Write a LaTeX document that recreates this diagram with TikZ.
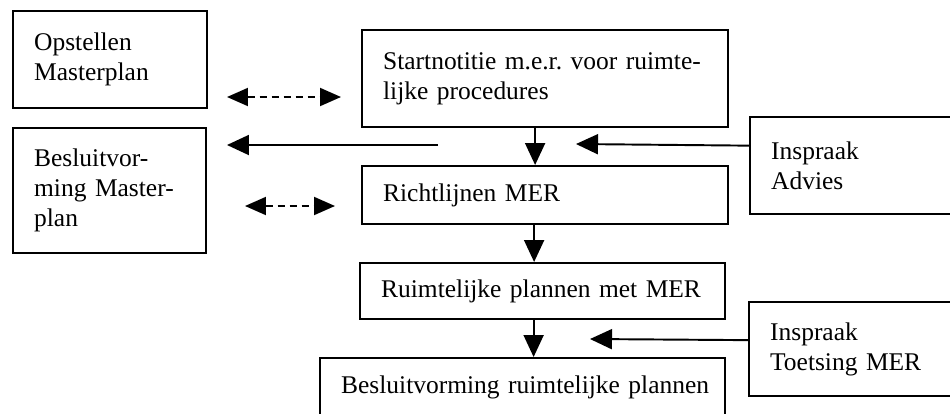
\documentclass[tikz,border=0pt]{standalone}
\usepackage{fontspec}
\setmainfont{Liberation Serif}
\usetikzlibrary{arrows.meta}

\begin{document}
\begin{tikzpicture}[
        x=0.02cm, y=-0.02cm,
        box/.style={draw, line width=1.3pt, anchor=north west, align=left,
            inner xsep=0.42cm, inner ysep=0pt,
            font=\fontsize{14.5}{17}\selectfont\frenchspacing},
        flow/.style={-{Triangle[length=0.44cm, width=0.4cm]}, line width=1.1pt},
        twoway/.style={{Triangle[length=0.42cm, width=0.36cm]}-{Triangle[length=0.42cm, width=0.36cm]},
            line width=1.1pt, dash pattern=on 0.14cm off 0.1cm}
    ]
        \useasboundingbox (0,0) rectangle (950,413);
        \clip (0,0) rectangle (950,413);

        \node[box, text width=3.04cm, minimum height=1.94cm] (opstel) at (12,10) {Opstellen\\Masterplan};
        \node[box, text width=3.02cm, minimum height=2.5cm] (besmp) at (12,127) {Besluitvor-\\ming Master-\\plan};

        \node[box, text width=6.48cm, minimum height=1.94cm] (start) at (361,29) {Startnotitie m.e.r. voor ruimte-\\lijke procedures};
        \node[box, text width=6.48cm, minimum height=1.16cm] (richt) at (361,165) {Richtlijnen MER};
        \node[box, text width=6.46cm, minimum height=1.12cm] (ruimt) at (359,262) {Ruimtelijke plannen met MER};
        \node[box, text width=7.26cm, minimum height=1.16cm] (besrp) at (319,357) {\mbox{Besluitvorming ruimtelijke plannen}};

        \node[box, text width=3.56cm, minimum height=1.94cm] (advies) at (749,116) {Inspraak\\Advies};
        \node[box, text width=3.56cm, minimum height=1.88cm] (toets) at (748,301) {Inspraak\\Toetsing MER};

        % free ends
        \coordinate (advIn) at (576,144);
        \coordinate (toetsIn) at (590,339);
        \coordinate (terugA) at (438,145);
        \coordinate (terugB) at (227,145);
        \coordinate (dashAl) at (227,97);
        \coordinate (dashAr) at (341,97);
        \coordinate (dashBl) at (245,206);
        \coordinate (dashBr) at (335,206);

        \draw[flow] ([xshift=-0.2cm]start.south) -- ([xshift=-0.2cm]richt.north);
        \draw[flow] ([xshift=-0.22cm]richt.south) -- ([xshift=-0.22cm]richt.south |- ruimt.north);
        \draw[flow] ([xshift=-0.18cm]ruimt.south) -- ([xshift=-0.18cm]ruimt.south |- besrp.north);

        \draw[flow] ([yshift=0.4cm]advies.west) -- (advIn);
        \draw[flow] ([yshift=0.18cm]toets.west) -- (toetsIn);
        \draw[flow] (terugA) -- (terugB);

        \draw[twoway] (dashAl) -- (dashAr);
        \draw[twoway] (dashBl) -- (dashBr);
    \end{tikzpicture}
\end{document}
